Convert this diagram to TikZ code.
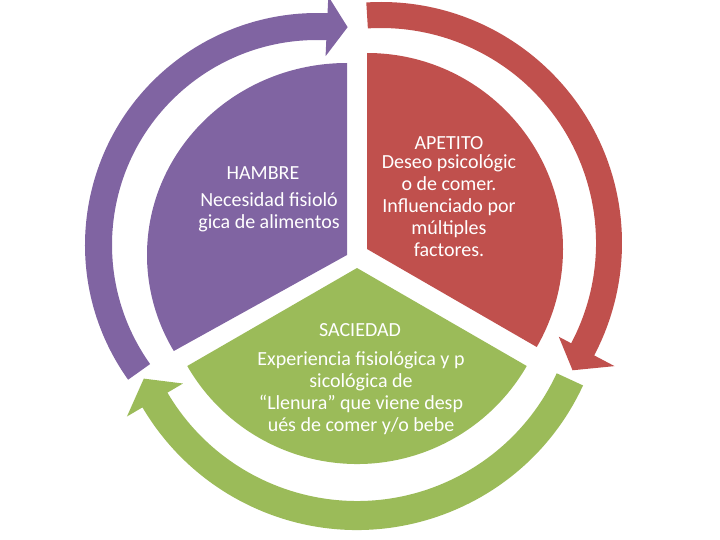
\documentclass[tikz,border=0pt]{standalone}
\usepackage{fontspec}
\setmainfont{Carlito}
\usetikzlibrary{calc}
\definecolor{purp}{HTML}{8064A2}
\definecolor{redd}{HTML}{C0504D}
\definecolor{gren}{HTML}{9BBB59}
\begin{document}
\begin{tikzpicture}[x=1pt,y=1pt,
  lbl/.style={text=white, font=\fontsize{20}{22}\selectfont, align=center, inner sep=0pt}]
\useasboundingbox (0,0) rectangle (720,-540);
\clip (0,0) rectangle (720,-540);
% arrow centres
\coordinate (P) at (317,-245);
\coordinate (Q) at (381,-243);
\coordinate (G) at (357,-281);
% purple arrow
\fill[purp] ($(P)+(215.5:232)$) arc[start angle=215.5, end angle=87.4, radius=232pt]
  -- ($(P)+(87.4:249)$) -- ($(P)+(82:220)$) -- ($(P)+(87.4:189)$) -- ($(P)+(87.4:205)$)
  arc[start angle=87.4, end angle=215.5, radius=205pt] -- cycle;
% red arrow
\fill[redd] ($(Q)+(93.5:241)$) arc[start angle=93.5, end angle=-27.8, radius=241pt]
  -- ($(Q)+(-27.8:264)$) -- ($(Q)+(-33.6:230)$) -- ($(Q)+(-27.8:201)$) -- ($(Q)+(-27.8:215)$)
  arc[start angle=-27.8, end angle=93.5, radius=215pt] -- cycle;
% green arrow
\fill[gren] ($(G)+(-24.8:249)$) arc[start angle=-24.8, end angle=-149.5, radius=249pt]
  -- ($(G)+(-149.5:267)$) -- ($(G)+(-155.4:234.5)$) -- ($(G)+(-149.5:202)$) -- ($(G)+(-149.5:220)$)
  arc[start angle=-149.5, end angle=-24.8, radius=220pt] -- cycle;
% sectors
\fill[purp] (347,-255) -- ++(0,192) arc[start angle=90, end angle=210, x radius=200pt, y radius=192pt] -- cycle;
\fill[redd] (367,-249) -- ++(0,196) arc[start angle=90, end angle=-30, radius=196pt] -- cycle;
\fill[gren] (357,-268) -- ++(210:196) arc[start angle=210, end angle=330, radius=196pt] -- cycle;
% texts
\node[lbl] (hambreT) at (263,-173) {HAMBRE};
\node[lbl] (hambreB) at (269,-212.5) {Necesidad fisioló\\gica de alimentos};
\node[lbl] (apetitoT) at (449,-143) {APETITO};
\node[lbl] (apetitoB) at (449,-206) {Deseo psicológic\\o de comer.\\Influenciado por\\múltiples\\factores.};
\node[lbl] (saciedadT) at (360,-330) {SACIEDAD};
\node[lbl] (saciedadB) at (361,-393) {Experiencia fisiológica y p\\sicológica de\\“Llenura” que viene desp\\ués de comer y/o bebe};
\end{tikzpicture}
\end{document}
